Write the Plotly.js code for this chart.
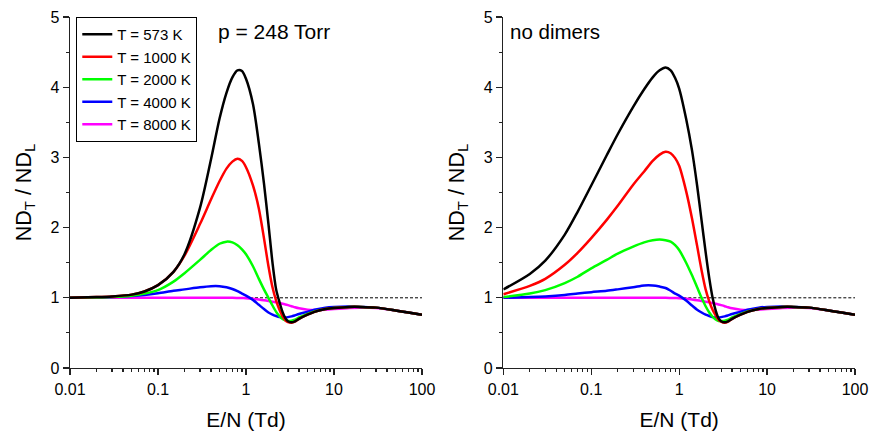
<!DOCTYPE html>
<html>
<head>
<meta charset="utf-8">
<script src="https://cdn.plot.ly/plotly-3.0.1.min.js"></script>
<style>html,body{margin:0;padding:0;background:#fff;}#chart{width:869px;height:431px;}</style>
</head>
<body>
<div id="chart"></div>
<script>
// E/N grid (Td)
const EN = [0.01,0.02,0.03,0.05,0.07,0.1,0.15,0.2,0.3,0.4,0.5,0.6,0.7,0.8,0.9,1.0,1.2,1.4,1.6,1.8,2.0,2.2,2.4,2.6,2.8,3.0,3.3,3.6,4,5,6,8,10,15,20,30,50,70,100];

const seriesNames = ["T = 573 K","T = 1000 K","T = 2000 K","T = 4000 K","T = 8000 K"];
const seriesColors = ["#000000","#ff0000","#00ff00","#0000ff","#ff00ff"];

// Left panel: p = 248 Torr
const left573  = [1.0,1.01,1.02,1.045,1.09,1.18,1.37,1.62,2.28,2.97,3.55,3.92,4.14,4.24,4.23,4.12,3.76,3.2,2.63,2.05,1.5,1.12,0.94,0.8,0.71,0.665,0.65,0.665,0.70,0.76,0.80,0.84,0.855,0.87,0.87,0.86,0.82,0.79,0.76];
const left1000 = [1.0,1.01,1.02,1.045,1.09,1.18,1.37,1.60,2.05,2.40,2.66,2.84,2.94,2.98,2.95,2.86,2.6,2.27,1.85,1.45,1.15,0.96,0.83,0.74,0.68,0.655,0.645,0.66,0.70,0.76,0.80,0.84,0.855,0.87,0.87,0.86,0.82,0.79,0.76];
const left2000 = [1.0,1.005,1.01,1.03,1.06,1.11,1.23,1.35,1.54,1.68,1.77,1.8,1.79,1.75,1.69,1.62,1.45,1.27,1.12,1.0,0.89,0.8,0.74,0.7,0.68,0.67,0.675,0.69,0.72,0.77,0.805,0.84,0.855,0.87,0.87,0.86,0.82,0.79,0.76];
const left4000 = [1.0,1.005,1.01,1.025,1.04,1.065,1.1,1.12,1.15,1.165,1.165,1.15,1.125,1.095,1.06,1.03,0.97,0.9,0.84,0.79,0.76,0.74,0.725,0.72,0.72,0.725,0.735,0.75,0.77,0.80,0.83,0.86,0.87,0.875,0.87,0.86,0.82,0.79,0.76];
const left8000 = [1.0,1.0,1.0,1.0,1.0,1.0,1.0,1.0,1.0,1.0,1.0,1.0,1.0,0.998,0.996,0.994,0.985,0.975,0.965,0.955,0.945,0.935,0.925,0.915,0.905,0.895,0.88,0.865,0.85,0.83,0.825,0.83,0.84,0.855,0.86,0.855,0.82,0.79,0.76];

// Right panel: no dimers
const right573  = [1.12,1.34,1.53,1.90,2.225,2.60,3.03,3.33,3.72,3.97,4.14,4.24,4.28,4.24,4.13,3.98,3.55,3.1,2.6,2.1,1.65,1.28,1.0,0.82,0.71,0.665,0.65,0.665,0.70,0.76,0.80,0.84,0.855,0.87,0.87,0.86,0.82,0.79,0.76];
const right1000 = [1.05,1.17,1.27,1.47,1.64,1.85,2.11,2.31,2.61,2.80,2.95,3.04,3.08,3.06,2.99,2.88,2.52,2.13,1.74,1.39,1.12,0.95,0.83,0.75,0.69,0.66,0.645,0.66,0.70,0.76,0.80,0.84,0.855,0.87,0.87,0.86,0.82,0.79,0.76];
const right2000 = [1.01,1.06,1.11,1.21,1.30,1.42,1.54,1.63,1.73,1.79,1.82,1.83,1.82,1.8,1.75,1.68,1.5,1.32,1.15,1.0,0.88,0.79,0.73,0.69,0.67,0.67,0.675,0.69,0.72,0.77,0.805,0.84,0.855,0.87,0.87,0.86,0.82,0.79,0.76];
const right4000 = [1.0,1.01,1.02,1.04,1.06,1.08,1.10,1.12,1.15,1.175,1.175,1.16,1.14,1.1,1.06,1.03,0.96,0.89,0.83,0.79,0.76,0.74,0.725,0.72,0.72,0.725,0.735,0.75,0.77,0.80,0.83,0.86,0.87,0.875,0.87,0.86,0.82,0.79,0.76];
const right8000 = [1.0,1.0,1.0,1.0,1.0,1.0,1.0,1.0,1.0,1.0,1.0,1.0,1.0,0.998,0.996,0.994,0.985,0.975,0.965,0.955,0.945,0.935,0.925,0.915,0.905,0.895,0.88,0.865,0.85,0.83,0.825,0.83,0.84,0.855,0.86,0.855,0.82,0.79,0.76];

const refX = [0.01, 100];
const refY = [1, 1];

const xTickVals = [0.01,0.1,1,10,100];
const xTickText = ["0.01","0.1","1","10","100"];
const yTickVals = [0,1,2,3,4,5];
const yTickText = ["0","1","2","3","4","5"];

const FONT = "Liberation Sans, Arial, sans-serif";

const leftSets = [left573,left1000,left2000,left4000,left8000];
const rightSets = [right573,right1000,right2000,right4000,right8000];

const traces = [];
traces.push({x:refX, y:refY, mode:"lines", line:{color:"#000", width:1, dash:"3px,2px"}, showlegend:false, hoverinfo:"skip", xaxis:"x", yaxis:"y"});
traces.push({x:refX, y:refY, mode:"lines", line:{color:"#000", width:1, dash:"3px,2px"}, showlegend:false, hoverinfo:"skip", xaxis:"x2", yaxis:"y2"});
for (let i = seriesNames.length - 1; i >= 0; i--) {
  traces.push({x:EN, y:leftSets[i], name:seriesNames[i], mode:"lines",
    line:{color:seriesColors[i], width:2.5, shape:"spline", smoothing:0.8}, xaxis:"x", yaxis:"y", legendrank:i+1});
}
for (let i = seriesNames.length - 1; i >= 0; i--) {
  traces.push({x:EN, y:rightSets[i], name:seriesNames[i], mode:"lines", showlegend:false,
    line:{color:seriesColors[i], width:2.5, shape:"spline", smoothing:0.8}, xaxis:"x2", yaxis:"y2"});
}

const minorX = [];
for (let k = -2; k < 2; k++) for (let m = 2; m <= 9; m++) minorX.push(m * Math.pow(10, k));

function xAxis(domain, anchor) {
  return {
    type:"log", range:[-2,2], domain:domain, anchor:anchor,
    tickmode:"array", tickvals:xTickVals, ticktext:xTickText,
    ticks:"outside", ticklen:6, tickwidth:1.3, tickcolor:"#222",
    minor:{tickmode:"array", tickvals:minorX, ticks:"outside", ticklen:3, tickwidth:1.2, tickcolor:"#222", showgrid:false},
    showline:true, linecolor:"#222", linewidth:1.4, mirror:false,
    showgrid:false, zeroline:false,
    tickfont:{family:FONT, size:16, color:"#000"},
    title:{text:"E/N (Td)", font:{family:FONT, size:21, color:"#000"}, standoff:16},
    automargin:false
  };
}
function yAxis(anchor) {
  return {
    range:[0,5], anchor:anchor,
    tickmode:"array", tickvals:yTickVals, ticktext:yTickText,
    ticks:"outside", ticklen:6, tickwidth:1.3, tickcolor:"#222",
    minor:{dtick:0.5, tick0:0, ticks:"outside", ticklen:3, tickwidth:1.2, tickcolor:"#222", showgrid:false},
    showline:true, linecolor:"#222", linewidth:1.4, mirror:false,
    showgrid:false, zeroline:false,
    tickfont:{family:FONT, size:16, color:"#000"},
    title:{text:"ND<sub>T</sub> / ND<sub>L</sub>", font:{family:FONT, size:21.5, color:"#000"}, standoff:13},
    automargin:false
  };
}

const layout = {
  width:869, height:431,
  margin:{l:70, r:14, t:17, b:63},
  paper_bgcolor:"#fff", plot_bgcolor:"#fff",
  showlegend:true,
  font:{family:FONT, color:"#000"},
  xaxis: xAxis([0, 0.4484], "y"),
  yaxis: yAxis("x"),
  xaxis2: xAxis([0.552, 1], "y2"),
  yaxis2: yAxis("x2"),
  legend:{x:0.008, y:1.0, xanchor:"left", yanchor:"top", xref:"paper", yref:"paper",
    bordercolor:"#000", borderwidth:1, bgcolor:"#fff",
    font:{family:FONT, size:15, color:"#000"}, tracegroupgap:0, traceorder:"normal"},
  annotations:[
    {text:"p = 248 Torr", xref:"paper", yref:"paper", x:0.186, y:0.96, xanchor:"left", yanchor:"middle", showarrow:false, font:{family:FONT, size:21, color:"#000"}},
    {text:"no dimers", xref:"paper", yref:"paper", x:0.558, y:0.96, xanchor:"left", yanchor:"middle", showarrow:false, font:{family:FONT, size:20.5, color:"#000"}}
  ]
};

Plotly.newPlot("chart", traces, layout, {staticPlot:true, displayModeBar:false});
</script>
</body>
</html>
